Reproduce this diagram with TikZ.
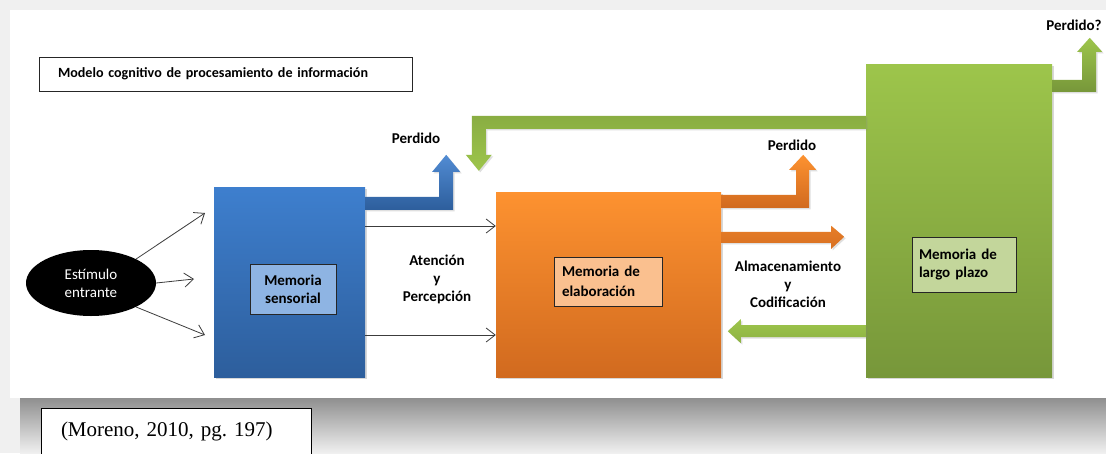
\documentclass[tikz,border=0pt]{standalone}
\usepackage{fontspec}
\setmainfont{Carlito}
\newfontfamily\citefont{Liberation Serif}
\usetikzlibrary{arrows.meta,shadows,shapes.geometric}
\definecolor{bgray}{RGB}{240,240,240}
\definecolor{bandtop}{RGB}{143,143,143}
\definecolor{bluetop}{RGB}{62,127,206}
\definecolor{bluebot}{RGB}{45,94,156}
\definecolor{oratop}{RGB}{253,146,48}
\definecolor{orabot}{RGB}{209,106,31}
\definecolor{grntop}{RGB}{157,197,75}
\definecolor{grnbot}{RGB}{119,151,58}
\definecolor{sensfill}{RGB}{142,180,227}
\definecolor{elabfill}{RGB}{250,192,143}
\definecolor{largfill}{RGB}{195,214,155}
\definecolor{linegray}{RGB}{60,60,60}
\tikzset{
  bigbox/.style={rectangle, inner sep=0pt, drop shadow={shadow xshift=1.5pt, shadow yshift=-1.5pt, opacity=0.3}},
  innerbox/.style={rectangle, draw=black!85, line width=1pt, inner sep=0pt, font=\bfseries\fontsize{15}{18}\selectfont, align=left},
  lbl/.style={font=\bfseries\fontsize{15}{18}\selectfont, align=center, inner sep=0pt},
  thinarrow/.style={draw=linegray, line width=0.8pt, -{Straight Barb[length=9pt,width=14pt,line width=0.8pt]}},
  fatshadow/.style={drop shadow={shadow xshift=1.5pt, shadow yshift=-1.5pt, opacity=0.25}},
}
\begin{document}
\begin{tikzpicture}[x=1pt,y=-1pt,font=\fontsize{15}{18}\selectfont]
\useasboundingbox (0,0) rectangle (1106,453);
% background
\fill[bgray] (0,0) rectangle (1106,453);
\fill[white] (10,10) rectangle (1106,398);
\shade[top color=bandtop, bottom color=bgray] (20,398) rectangle (1106,453);

% title
\node[draw=black!85, line width=0.9pt, fill=white, minimum height=34pt, text width=335pt, inner xsep=19pt, align=left, font=\bfseries\fontsize{14.1}{17}\selectfont] (title) at (225.5,74) {Modelo cognitivo de procesamiento de información};

% big boxes
\node[bigbox, top color=bluetop, bottom color=bluebot, minimum width=151pt, minimum height=190pt] (blue) at (289.5,282) {};
\node[bigbox, top color=oratop, bottom color=orabot, minimum width=225pt, minimum height=185pt] (orange) at (608.5,284.5) {};
\node[bigbox, top color=grntop, bottom color=grnbot, minimum width=186pt, minimum height=313pt] (green) at (959,220.5) {};

% inner boxes
\node[innerbox, fill=sensfill, minimum width=86pt, minimum height=50pt, align=center] (sens) at (293,289) {Memoria\\sensorial};
\node[innerbox, fill=elabfill, minimum width=108pt, minimum height=49pt, text width=92pt, inner xsep=8pt, font=\bfseries\fontsize{15}{20}\selectfont] (elab) at (608,281.5) {Memoria de\\elaboración};
\node[innerbox, fill=largfill, minimum width=104pt, minimum height=55pt, text width=90pt, inner xsep=7pt] (larg) at (964,264.5) {Memoria de\\largo plazo};

% ellipse
\node[ellipse, fill=black, text=white, minimum width=130pt, minimum height=66pt, inner sep=0pt, align=left] (ell) at (91,283) {Estímulo\\entrante};

% thin arrows from stimulus
\coordinate (e1) at (205,213);
\coordinate (e2) at (194,279);
\coordinate (e3) at (205,335);
\draw[thinarrow] (ell.28) -- (e1);
\draw[thinarrow] (ell.east) -- (e2);
\draw[thinarrow] (ell.-28) -- (e3);

% thin arrows blue -> orange
\draw[thinarrow] (blue.east |- 0,226) -- (orange.west |- 0,226);
\draw[thinarrow] (blue.east |- 0,335) -- (orange.west |- 0,335);

% fat arrows
\path[fatshadow, top color=bluetop!90!white, bottom color=bluebot]
  (blue.north east) ++(0,10) -- ++(74,0) -- ++(0,-25) -- ++(-7,0) -- ++(14,-17) -- ++(14,17) -- ++(-7,0) -- ++(0,38) -- ++(-88,0) -- cycle;
\path[fatshadow, top color=oratop, bottom color=orabot]
  (orange.north east) ++(0,3) -- ++(75,0) -- ++(0,-25) -- ++(-7,0) -- ++(14,-15) -- ++(13,15) -- ++(-7,0) -- ++(0,38) -- ++(-88,0) -- cycle;
\path[fatshadow, top color=oratop, bottom color=orabot!85!oratop]
  (orange.north east) ++(0,40) -- ++(110,0) -- ++(0,-6) -- ++(13,11) -- ++(-13,12) -- ++(0,-6) -- ++(-110,0) -- cycle;
\path[fatshadow, top color=grntop, bottom color=grnbot]
  (green.south west) ++(0,-52) -- ++(-125,0) -- ++(0,-6) -- ++(-13,12) -- ++(13,12) -- ++(0,-6) -- ++(125,0) -- cycle;
\path[fatshadow, top color=grnbot, bottom color=grntop]
  (green.north west) ++(0,52) -- ++(-394,0) -- ++(0,39) -- ++(-6,0) -- ++(13,16) -- ++(13,-16) -- ++(-6,0) -- ++(0,-26) -- ++(380,0) -- cycle;
\path[fatshadow, top color=grntop, bottom color=grnbot]
  (green.north east) ++(0,16) -- ++(30,0) -- ++(0,-28) -- ++(-5,0) -- ++(12.5,-14) -- ++(12.5,14) -- ++(-6,0) -- ++(0,40) -- ++(-44,0) -- cycle;

% labels
\node[lbl] (p1) at (416,138) {Perdido};
\node[lbl] (p2) at (792,145) {Perdido};
\node[lbl] (p3) at (1074,25) {Perdido?};
\node[lbl] (ap) at (437,279) {Atención\\y\\Percepción};
\node[lbl] (ac) at (788,284) {Almacenamiento\\y\\Codificación};

% citation
\node[draw=black, line width=0.8pt, fill=white, minimum height=47pt, text width=230pt, inner xsep=20pt, align=left, font=\citefont\fontsize{21}{24}\selectfont\frenchspacing] (cite) at (176,431.5) {(Moreno, 2010, pg. 197)};
\end{tikzpicture}
\end{document}
